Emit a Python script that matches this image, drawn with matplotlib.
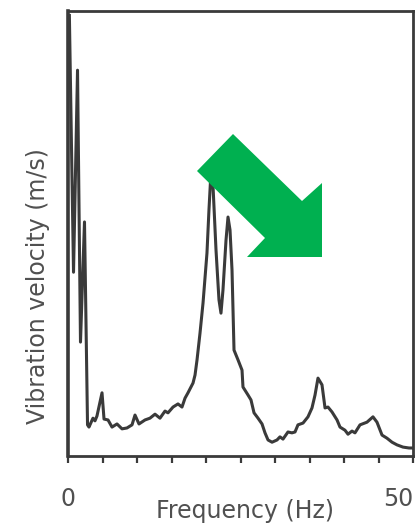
import matplotlib
matplotlib.use("Agg")
import matplotlib.pyplot as plt
from matplotlib.patches import Polygon

# Frequency (Hz)
freq = [0.2, 0.80, 1.38, 1.81, 2.39, 2.83, 3.04, 3.62, 3.91, 4.20, 4.93, 5.22, 5.80, 6.38,
        7.10, 7.83, 8.55, 9.28, 9.71, 10.29, 11.16, 11.88, 12.61, 13.33, 14.06, 14.49,
        15.22, 15.94, 16.52, 16.96, 17.39, 18.12, 18.41, 18.70, 19.13, 19.57, 20.14,
        20.43, 20.72, 21.01, 21.45, 21.88, 22.17, 22.46, 22.90, 23.19, 23.48, 23.77,
        24.06, 24.64, 25.22, 25.36, 26.09, 26.52, 26.96, 27.54, 28.12, 28.55, 28.99,
        29.57, 30.29, 30.72, 31.16, 31.88, 32.46, 32.90, 33.33, 34.06, 34.78, 35.36,
        35.80, 36.23, 36.81, 37.25, 37.68, 38.26, 38.99, 39.42, 40.14, 40.58, 41.16,
        41.59, 42.32, 43.33, 44.20, 44.78, 45.51, 46.23, 46.96, 47.68, 48.55, 49.42, 50.0]
# Vibration velocity (relative units)
velocity = [99, 41.3, 86.7, 25.6, 52.6, 7.0, 6.5, 8.5, 7.9, 9.0, 14.2, 8.3, 8.1, 6.5,
            7.2, 6.1, 6.3, 7.0, 9.2, 7.2, 8.1, 8.5, 9.4, 8.5, 10.1, 9.7,
            11.0, 11.7, 11.0, 13.0, 14.2, 16.4, 18.2, 21.6, 27.6, 34.4, 45.6,
            55.3, 63.8, 60.9, 46.3, 35.1, 32.1, 37.3, 48.5, 53.7, 50.8, 41.8,
            23.8, 21.6, 19.3, 15.5, 13.7, 12.6, 9.7, 8.5, 7.2, 5.2, 3.6,
            3.1, 3.6, 4.3, 3.8, 5.4, 5.2, 5.4, 7.0, 7.4, 8.8, 10.8,
            13.7, 17.5, 16.0, 10.8, 11.0, 9.9, 8.1, 6.5, 5.8, 4.9, 5.6,
            5.2, 7.0, 7.6, 8.8, 7.6, 4.7, 4.0, 3.1, 2.5, 2.0, 1.8, 1.8]

xticks = list(range(0, 51, 5))
xticklabels = ["0"] + [""] * 9 + ["50"]

W, H = 416, 527
fig = plt.figure(figsize=(W / 100, H / 100), dpi=100)
fig.patch.set_facecolor("white")
ax = fig.add_axes([68 / W, 1 - 456 / H, (413 - 68) / W, (456 - 11) / H])

line_col = "#3a3a3a"
text_col = "#505050"

ax.plot(freq, velocity, color=line_col, lw=2.2, solid_joinstyle="round", clip_on=True)
ax.set_xlim(0, 50)
ax.set_ylim(0, 100)

for s in ax.spines.values():
    s.set_color(line_col)
    s.set_linewidth(2.0)
ax.spines["left"].set_linewidth(2.6)

ax.set_xticks(xticks, labels=xticklabels)
ax.tick_params(axis="x", direction="out", length=5, width=1.6, color=line_col,
               labelsize=17, labelcolor=text_col, pad=17)
for lab in ax.get_xticklabels():
    if lab.get_text() == "50":
        lab.set_horizontalalignment("right")
ax.set_yticks([])

ax.set_xlabel("Frequency (Hz)", fontsize=17, color=text_col)
ax.xaxis.set_label_coords((245 - 68) / (413 - 68), -(499 - 456) / (456 - 11))
ax.set_ylabel("Vibration velocity (m/s)", fontsize=17, color=text_col)
ax.yaxis.set_label_coords((50 - 68) / (413 - 68), (456 - 286) / (456 - 11))

# Green arrow overlay (figure pixel outline)
arrow_px = [(233, 134), (197, 171), (265, 238), (247, 257), (322, 257), (322, 183), (302, 201)]
arrow_fig = [(x / W, 1 - y / H) for x, y in arrow_px]
fig.patches.append(Polygon(arrow_fig, closed=True, transform=fig.transFigure,
                           facecolor="#00b050", edgecolor="none", zorder=10))

fig.savefig("out.png", dpi=100)
